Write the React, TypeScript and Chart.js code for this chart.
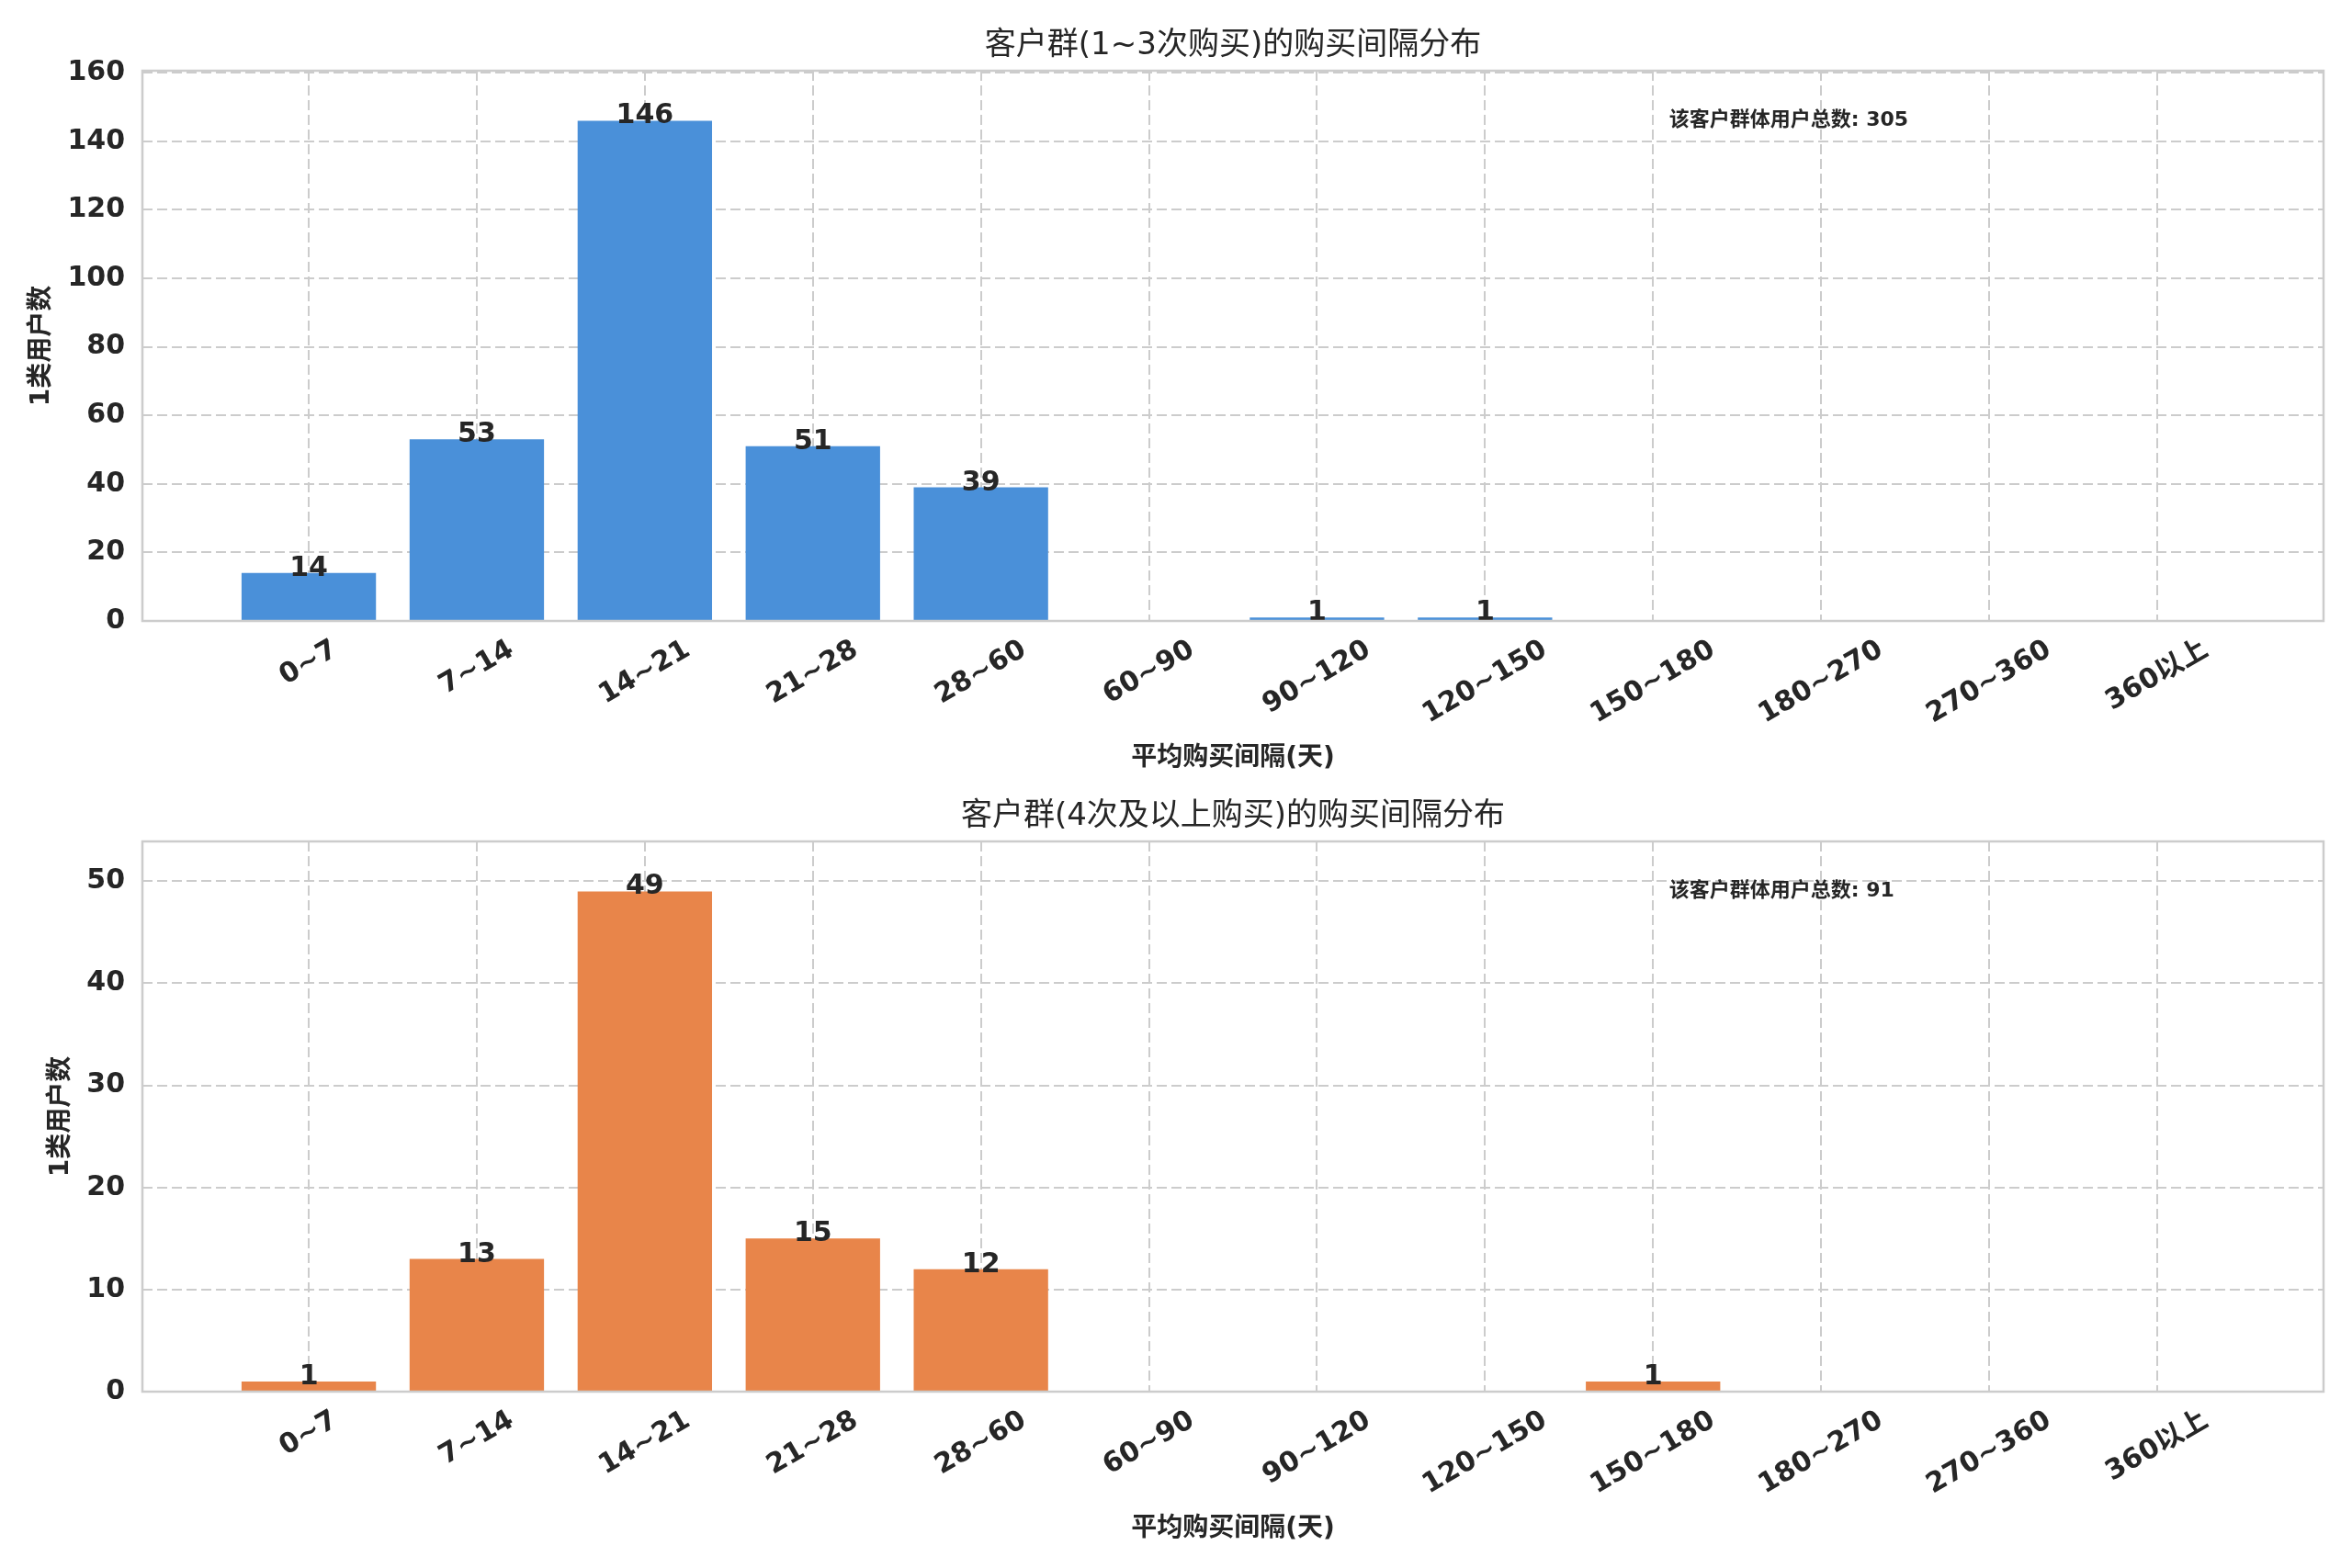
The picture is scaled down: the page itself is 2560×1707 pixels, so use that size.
import { useEffect, useRef } from 'react'
import { Chart, registerables, type Plugin } from 'chart.js'

Chart.register(...registerables)

const FONT = '"DejaVu Sans", "Noto Sans CJK SC", sans-serif'
const TEXT = '#262626'
const GRID = '#cccccc'

// 购买间隔分组
const intervalLabels = [
  '0~7', '7~14', '14~21', '21~28', '28~60', '60~90',
  '90~120', '120~150', '150~180', '180~270', '270~360', '360以上',
]
const lowFreqCounts = [14, 53, 146, 51, 39, 0, 1, 1, 0, 0, 0, 0]
const highFreqCounts = [1, 13, 49, 15, 12, 0, 0, 0, 1, 0, 0, 0]
const lowFreqTicks = [0, 20, 40, 60, 80, 100, 120, 140, 160]
const highFreqTicks = [0, 10, 20, 30, 40, 50]

const X_LABEL = '平均购买间隔(天)'
const Y_LABEL = '1类用户数'

interface Panel {
  title: string
  color: string
  counts: number[]
  yTicks: number[]
  top: number
  height: number
  padTop: number
  bottomSpace: number
}

const panels: Panel[] = [
  {
    title: '客户群(1~3次购买)的购买间隔分布',
    color: '#4a90d9',
    counts: lowFreqCounts,
    yTicks: lowFreqTicks,
    top: 0,
    height: 853,
    padTop: 77,
    bottomSpace: 177,
  },
  {
    title: '客户群(4次及以上购买)的购买间隔分布',
    color: '#e8854a',
    counts: highFreqCounts,
    yTicks: highFreqTicks,
    top: 853,
    height: 854,
    padTop: 63,
    bottomSpace: 192,
  },
]

function decor(p: Panel): Plugin<'bar'> {
  return {
    id: 'decor',
    afterDatasetsDraw(chart) {
      const { ctx } = chart
      const meta = chart.getDatasetMeta(0)
      ctx.save()
      ctx.fillStyle = TEXT
      ctx.font = `bold 30px ${FONT}`
      ctx.textAlign = 'center'
      ctx.textBaseline = 'alphabetic'
      meta.data.forEach((bar: any, i) => {
        const v = p.counts[i]
        if (v > 0) ctx.fillText(String(v), bar.x, bar.y + 3)
      })
      ctx.restore()
    },
    afterDraw(chart) {
      const { ctx, chartArea: a } = chart
      const xScale = chart.scales.x
      ctx.save()

      // 四边框
      ctx.strokeStyle = GRID
      ctx.lineWidth = 2.5
      ctx.strokeRect(a.left, a.top, a.right - a.left, a.bottom - a.top)

      ctx.fillStyle = TEXT

      // 标题
      ctx.font = `34px ${FONT}`
      ctx.textAlign = 'center'
      ctx.textBaseline = 'middle'
      ctx.fillText(p.title, (a.left + a.right) / 2, a.top - 27)

      // x 轴刻度（旋转 30°，居中对齐）
      ctx.font = `bold 30px ${FONT}`
      const lineH = 30 * 1.17
      intervalLabels.forEach((label, i) => {
        const x = xScale.getPixelForValue(i)
        const w = ctx.measureText(label).width
        const boxH = w * 0.5 + lineH * Math.cos(Math.PI / 6)
        const cy = a.bottom + 14 + boxH / 2
        ctx.save()
        ctx.translate(x, cy)
        ctx.rotate(-Math.PI / 6)
        ctx.fillText(label, 0, 0)
        ctx.restore()
      })

      // 轴标题
      ctx.font = `bold 28px ${FONT}`
      ctx.fillText(X_LABEL, (a.left + a.right) / 2, a.bottom + 150)

      ctx.font = `bold 30px ${FONT}`
      const maxW = Math.max(...p.yTicks.map((t) => ctx.measureText(String(t)).width))
      ctx.font = `bold 28px ${FONT}`
      ctx.save()
      ctx.translate(a.left - 19 - maxW - 28, (a.top + a.bottom) / 2)
      ctx.rotate(-Math.PI / 2)
      ctx.fillText(Y_LABEL, 0, 0)
      ctx.restore()

      // 总数注释
      const total = p.counts.reduce((s, v) => s + v, 0)
      ctx.font = `bold 22px ${FONT}`
      ctx.textAlign = 'left'
      ctx.fillText(
        `该客户群体用户总数: ${total}`,
        a.left + 0.7 * (a.right - a.left),
        a.top + 0.09 * (a.bottom - a.top),
      )
      ctx.restore()
    },
  }
}

function BarPanel({ p }: { p: Panel }) {
  const canvasRef = useRef<HTMLCanvasElement>(null)
  const chartRef = useRef<Chart | null>(null)

  useEffect(() => {
    if (!canvasRef.current) return
    const yMax = Math.max(...p.counts) * 1.1

    chartRef.current = new Chart(canvasRef.current, {
      type: 'bar',
      data: {
        datasets: [
          {
            data: p.counts.map((v, i) => ({ x: i, y: v })),
            backgroundColor: p.color,
            borderWidth: 0,
            barPercentage: 0.8,
            categoryPercentage: 1,
          },
        ],
      },
      options: {
        responsive: false,
        devicePixelRatio: 1,
        animation: false,
        layout: { padding: { top: p.padTop, right: 31, bottom: 0, left: 0 } },
        plugins: {
          legend: { display: false },
          tooltip: { enabled: false },
        },
        scales: {
          x: {
            type: 'linear',
            offset: false,
            min: -0.99,
            max: 11.99,
            afterBuildTicks: (s: any) => {
              s.ticks = intervalLabels.map((_, i) => ({ value: i }))
            },
            afterFit: (s: any) => {
              s.height = p.bottomSpace
            },
            ticks: { display: false },
            grid: { color: GRID, lineWidth: 2, drawTicks: false, offset: false },
            border: { display: false, dash: [11, 5] },
          },
          y: {
            min: 0,
            max: yMax,
            afterBuildTicks: (s: any) => {
              s.ticks = p.yTicks.map((v) => ({ value: v }))
            },
            afterFit: (s: any) => {
              s.width = 155
            },
            ticks: {
              color: TEXT,
              padding: 19,
              font: { family: FONT, size: 30, weight: 'bold' },
            },
            grid: { color: GRID, lineWidth: 2, drawTicks: false },
            border: { display: false, dash: [11, 5] },
          },
        },
      },
      plugins: [decor(p)],
    } as any)

    return () => {
      chartRef.current?.destroy()
      chartRef.current = null
    }
  }, [p])

  return (
    <div style={{ position: 'absolute', left: 0, top: p.top, width: 2560, height: p.height }}>
      <canvas ref={canvasRef} width={2560} height={p.height} style={{ width: 2560, height: p.height }} />
    </div>
  )
}

export default function App() {
  return (
    <div style={{ position: 'absolute', left: 0, top: 0, width: 2560, height: 1707, background: '#fff' }}>
      {panels.map((p) => (
        <BarPanel key={p.title} p={p} />
      ))}
    </div>
  )
}
